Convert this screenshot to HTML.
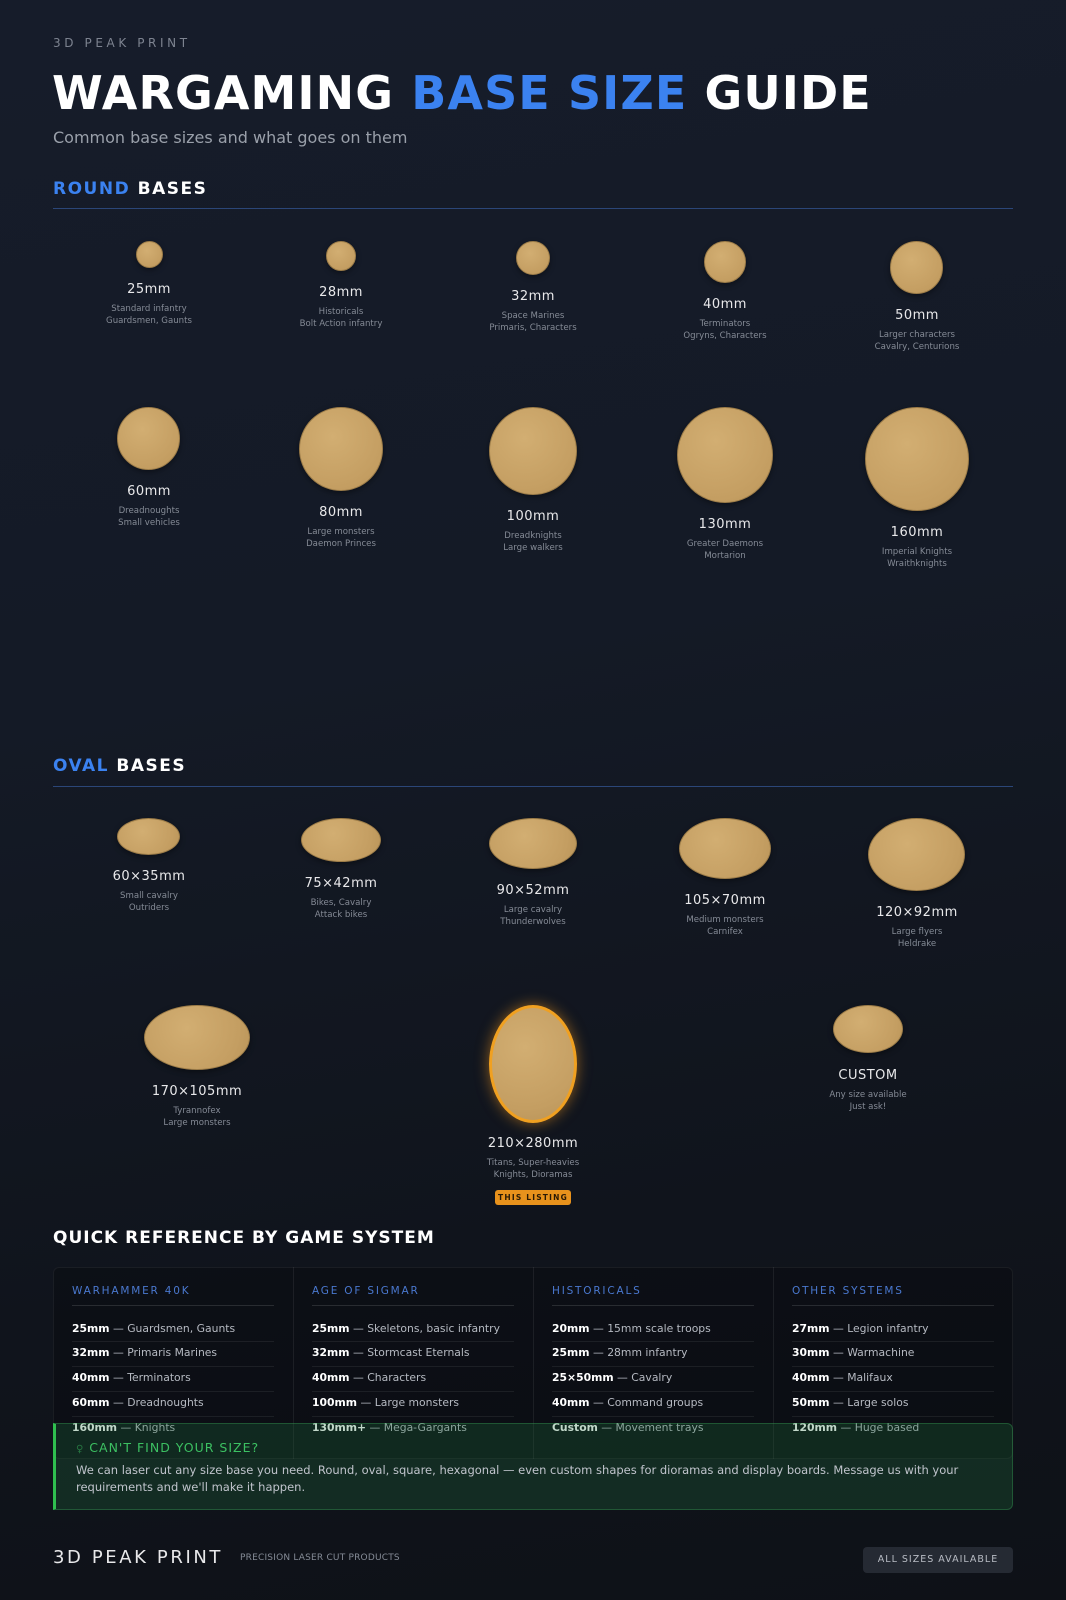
<!DOCTYPE html>
<html><head><meta charset="utf-8">
<style>
*{margin:0;padding:0;box-sizing:border-box}
html,body{width:1066px;height:1600px;overflow:hidden}
body{position:relative;font-family:"DejaVu Sans","Liberation Sans",sans-serif;background:linear-gradient(170deg,#161c2a 0%,#141a26 40%,#10141c 75%,#0e1117 100%);color:#fff}
.a{position:absolute;white-space:nowrap}
.c{position:absolute;border-radius:50%;background:radial-gradient(circle at 40% 35%,#d2ae72,#c49e62 70%,#b89358);border:1px solid #9c7c48;box-shadow:0 2px 6px rgba(0,0,0,.4)}
.t{position:absolute;width:240px;text-align:center;white-space:nowrap}
.lb{font-size:13px;color:#e8e8ea;letter-spacing:.5px;line-height:16px;margin-top:2px}
.ds{font-size:8.6px;color:#858b96;line-height:12px;margin-top:3px}
.sec{font-size:17px;font-weight:bold;letter-spacing:1.5px;line-height:20px}
.hl{position:absolute;left:53px;width:960px;height:1px;background:#2b4678}
.ch{font-size:10.5px;color:#4a78cf;letter-spacing:1.8px;line-height:14px}
.row{font-size:10.8px;color:#b6bac2;line-height:14px}
.row b{color:#fff}
.sep{position:absolute;height:1px;background:rgba(255,255,255,.07);width:202px}
</style></head><body>
<div class="a" style="left:53px;top:35px;font-size:12px;letter-spacing:3.6px;color:#7d8390;line-height:16px">3D PEAK PRINT</div>
<div class="a" style="left:52px;top:65px;font-size:46px;font-weight:bold;letter-spacing:1.1px;line-height:56px">WARGAMING <span style="color:#3b82f0">BASE SIZE</span> GUIDE</div>
<div class="a" style="left:53px;top:128px;font-size:16px;color:#9aa0aa;line-height:20px">Common base sizes and what goes on them</div>

<div class="a sec" style="left:53px;top:179px"><span style="color:#3b82f0">ROUND</span> BASES</div>
<div class="hl" style="top:208px"></div>

<div class="c" style="left:136px;top:241px;width:27px;height:27px"></div>
<div class="t lb" style="left:29px;top:280px">25mm</div>
<div class="t ds" style="left:29px;top:300px">Standard infantry<br>Guardsmen, Gaunts</div>
<div class="c" style="left:326px;top:241px;width:30px;height:30px"></div>
<div class="t lb" style="left:221px;top:283px">28mm</div>
<div class="t ds" style="left:221px;top:303px">Historicals<br>Bolt Action infantry</div>
<div class="c" style="left:516px;top:241px;width:34px;height:34px"></div>
<div class="t lb" style="left:413px;top:287px">32mm</div>
<div class="t ds" style="left:413px;top:307px">Space Marines<br>Primaris, Characters</div>
<div class="c" style="left:704px;top:241px;width:42px;height:42px"></div>
<div class="t lb" style="left:605px;top:295px">40mm</div>
<div class="t ds" style="left:605px;top:315px">Terminators<br>Ogryns, Characters</div>
<div class="c" style="left:890px;top:241px;width:53px;height:53px"></div>
<div class="t lb" style="left:797px;top:306px">50mm</div>
<div class="t ds" style="left:797px;top:326px">Larger characters<br>Cavalry, Centurions</div>

<div class="c" style="left:117px;top:407px;width:63px;height:63px"></div>
<div class="t lb" style="left:29px;top:482px">60mm</div>
<div class="t ds" style="left:29px;top:502px">Dreadnoughts<br>Small vehicles</div>
<div class="c" style="left:299px;top:407px;width:84px;height:84px"></div>
<div class="t lb" style="left:221px;top:503px">80mm</div>
<div class="t ds" style="left:221px;top:523px">Large monsters<br>Daemon Princes</div>
<div class="c" style="left:489px;top:407px;width:88px;height:88px"></div>
<div class="t lb" style="left:413px;top:507px">100mm</div>
<div class="t ds" style="left:413px;top:527px">Dreadknights<br>Large walkers</div>
<div class="c" style="left:677px;top:407px;width:96px;height:96px"></div>
<div class="t lb" style="left:605px;top:515px">130mm</div>
<div class="t ds" style="left:605px;top:535px">Greater Daemons<br>Mortarion</div>
<div class="c" style="left:865px;top:407px;width:104px;height:104px"></div>
<div class="t lb" style="left:797px;top:523px">160mm</div>
<div class="t ds" style="left:797px;top:543px">Imperial Knights<br>Wraithknights</div>

<div class="a sec" style="left:53px;top:756px"><span style="color:#3b82f0">OVAL</span> BASES</div>
<div class="hl" style="top:786px"></div>

<div class="c" style="left:117px;top:818px;width:63px;height:37px"></div>
<div class="t lb" style="left:29px;top:867px">60×35mm</div>
<div class="t ds" style="left:29px;top:887px">Small cavalry<br>Outriders</div>
<div class="c" style="left:301px;top:818px;width:80px;height:44px"></div>
<div class="t lb" style="left:221px;top:874px">75×42mm</div>
<div class="t ds" style="left:221px;top:894px">Bikes, Cavalry<br>Attack bikes</div>
<div class="c" style="left:489px;top:818px;width:88px;height:51px"></div>
<div class="t lb" style="left:413px;top:881px">90×52mm</div>
<div class="t ds" style="left:413px;top:901px">Large cavalry<br>Thunderwolves</div>
<div class="c" style="left:679px;top:818px;width:92px;height:61px"></div>
<div class="t lb" style="left:605px;top:891px">105×70mm</div>
<div class="t ds" style="left:605px;top:911px">Medium monsters<br>Carnifex</div>
<div class="c" style="left:868px;top:818px;width:97px;height:73px"></div>
<div class="t lb" style="left:797px;top:903px">120×92mm</div>
<div class="t ds" style="left:797px;top:923px">Large flyers<br>Heldrake</div>

<div class="c" style="left:144px;top:1005px;width:106px;height:65px"></div>
<div class="t lb" style="left:77px;top:1082px">170×105mm</div>
<div class="t ds" style="left:77px;top:1102px">Tyrannofex<br>Large monsters</div>
<div class="c" style="left:489px;top:1005px;width:88px;height:118px;border:3px solid #f0a020;box-shadow:0 0 14px rgba(240,150,30,.55)"></div>
<div class="t lb" style="left:413px;top:1134px">210×280mm</div>
<div class="t ds" style="left:413px;top:1154px">Titans, Super-heavies<br>Knights, Dioramas</div>
<div class="a" style="left:495px;top:1190px;width:76px;height:15px;background:#e8921c;border-radius:3px;color:#2a1a05;font-size:7.5px;font-weight:bold;letter-spacing:1.2px;text-align:center;line-height:15px">THIS LISTING</div>
<div class="c" style="left:833px;top:1005px;width:70px;height:48px"></div>
<div class="t lb" style="left:748px;top:1066px">CUSTOM</div>
<div class="t ds" style="left:748px;top:1086px">Any size available<br>Just ask!</div>

<div class="a" style="left:53px;top:1227px;font-size:17px;font-weight:bold;letter-spacing:1px;line-height:22px">QUICK REFERENCE BY GAME SYSTEM</div>

<div class="a" style="left:53px;top:1267px;width:960px;height:192px;background:rgba(0,0,0,.22);border:1px solid rgba(255,255,255,.06);border-radius:6px"></div>
<div class="a" style="left:293px;top:1267px;width:1px;height:192px;background:rgba(255,255,255,.07)"></div>
<div class="a" style="left:533px;top:1267px;width:1px;height:192px;background:rgba(255,255,255,.07)"></div>
<div class="a" style="left:773px;top:1267px;width:1px;height:192px;background:rgba(255,255,255,.07)"></div>

<div class="a ch" style="left:72px;top:1284px">WARHAMMER 40K</div>
<div class="a ch" style="left:312px;top:1284px">AGE OF SIGMAR</div>
<div class="a ch" style="left:552px;top:1284px">HISTORICALS</div>
<div class="a ch" style="left:792px;top:1284px">OTHER SYSTEMS</div>
<div class="sep" style="left:72px;top:1305px;background:rgba(255,255,255,.12)"></div>
<div class="sep" style="left:312px;top:1305px;background:rgba(255,255,255,.12)"></div>
<div class="sep" style="left:552px;top:1305px;background:rgba(255,255,255,.12)"></div>
<div class="sep" style="left:792px;top:1305px;background:rgba(255,255,255,.12)"></div>

<div class="sep" style="left:72px;top:1341px"></div><div class="sep" style="left:312px;top:1341px"></div><div class="sep" style="left:552px;top:1341px"></div><div class="sep" style="left:792px;top:1341px"></div>
<div class="sep" style="left:72px;top:1366px"></div><div class="sep" style="left:312px;top:1366px"></div><div class="sep" style="left:552px;top:1366px"></div><div class="sep" style="left:792px;top:1366px"></div>
<div class="sep" style="left:72px;top:1391px"></div><div class="sep" style="left:312px;top:1391px"></div><div class="sep" style="left:552px;top:1391px"></div><div class="sep" style="left:792px;top:1391px"></div>
<div class="sep" style="left:72px;top:1416px"></div><div class="sep" style="left:312px;top:1416px"></div><div class="sep" style="left:552px;top:1416px"></div><div class="sep" style="left:792px;top:1416px"></div>

<div class="a row" style="left:72px;top:1322px"><b>25mm</b> — Guardsmen, Gaunts</div>
<div class="a row" style="left:72px;top:1346px"><b>32mm</b> — Primaris Marines</div>
<div class="a row" style="left:72px;top:1371px"><b>40mm</b> — Terminators</div>
<div class="a row" style="left:72px;top:1396px"><b>60mm</b> — Dreadnoughts</div>
<div class="a row" style="left:72px;top:1421px"><b>160mm</b> — Knights</div>

<div class="a row" style="left:312px;top:1322px"><b>25mm</b> — Skeletons, basic infantry</div>
<div class="a row" style="left:312px;top:1346px"><b>32mm</b> — Stormcast Eternals</div>
<div class="a row" style="left:312px;top:1371px"><b>40mm</b> — Characters</div>
<div class="a row" style="left:312px;top:1396px"><b>100mm</b> — Large monsters</div>
<div class="a row" style="left:312px;top:1421px"><b>130mm+</b> — Mega-Gargants</div>

<div class="a row" style="left:552px;top:1322px"><b>20mm</b> — 15mm scale troops</div>
<div class="a row" style="left:552px;top:1346px"><b>25mm</b> — 28mm infantry</div>
<div class="a row" style="left:552px;top:1371px"><b>25×50mm</b> — Cavalry</div>
<div class="a row" style="left:552px;top:1396px"><b>40mm</b> — Command groups</div>
<div class="a row" style="left:552px;top:1421px"><b>Custom</b> — Movement trays</div>

<div class="a row" style="left:792px;top:1322px"><b>27mm</b> — Legion infantry</div>
<div class="a row" style="left:792px;top:1346px"><b>30mm</b> — Warmachine</div>
<div class="a row" style="left:792px;top:1371px"><b>40mm</b> — Malifaux</div>
<div class="a row" style="left:792px;top:1396px"><b>50mm</b> — Large solos</div>
<div class="a row" style="left:792px;top:1421px"><b>120mm</b> — Huge based</div>

<div class="a" style="left:53px;top:1423px;width:960px;height:87px;background:rgba(34,110,60,.28);border:1px solid rgba(60,170,90,.35);border-left:3px solid #2fbf4f;border-radius:0 6px 6px 0"></div>
<div class="a" style="left:76px;top:1440px;font-size:12.5px;color:#3cc062;letter-spacing:1px;line-height:16px"><span style="opacity:.5;font-size:10px">♀</span> CAN'T FIND YOUR SIZE?</div>
<div class="a" style="left:76px;top:1462px;font-size:11.5px;color:#c0c4cc;line-height:17px">We can laser cut any size base you need. Round, oval, square, hexagonal — even custom shapes for dioramas and display boards. Message us with your<br>requirements and we'll make it happen.</div>

<div class="a" style="left:53px;top:1546px;font-size:18px;letter-spacing:2.6px;color:#e8e8ea;line-height:24px">3D PEAK PRINT</div>
<div class="a" style="left:240px;top:1552px;font-size:9px;color:#858b96;letter-spacing:.2px;line-height:12px">PRECISION LASER CUT PRODUCTS</div>
<div class="a" style="left:863px;top:1547px;width:150px;height:26px;background:#252a33;border-radius:4px;font-size:9.5px;color:#b8bcc4;letter-spacing:1px;text-align:center;line-height:26px">ALL SIZES AVAILABLE</div>
</body></html>
